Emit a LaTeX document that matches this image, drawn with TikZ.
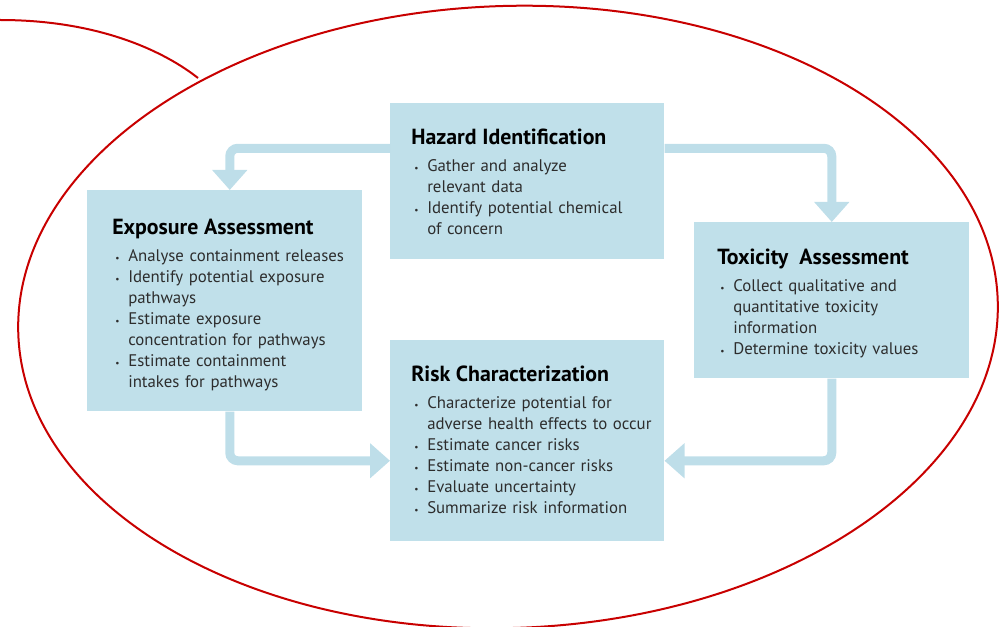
\documentclass[tikz,border=0pt]{standalone}
\usepackage{fontspec}
\setmainfont{PT Sans}
\usetikzlibrary{calc}
\usetikzlibrary{arrows.meta}
\definecolor{boxblue}{RGB}{192,224,234}
\definecolor{flowblue}{RGB}{190,222,233}
\definecolor{ovalred}{RGB}{200,0,0}
\definecolor{bodygray}{RGB}{45,45,45}
\newcommand{\itm}[1]{\par\hangindent=12pt\hangafter=1\noindent\makebox[12pt][l]{\hspace{2.25pt}\raisebox{0.5pt}{\scriptsize\textbullet}}#1\par}
\newcommand{\ttl}[1]{{\fontsize{16.4}{18}\selectfont\bfseries\color{black}#1\par}\vspace{4.5pt}}
\tikzset{
	box/.style={fill=boxblue, inner sep=0pt, anchor=north west},
	txt/.style={anchor=north west, inner sep=0pt, align=left, text width=195pt, text=bodygray, font=\fontsize{12.6}{15.75}\selectfont},
	flow/.style={draw=flowblue, line width=6.75pt, rounded corners=6pt, -{Triangle[width=25.5pt,length=15pt]}}
}

\begin{document}
\begin{tikzpicture}[x=0.75pt,y=-0.75pt]
\useasboundingbox (0,0) rectangle (999,627);
% the four steps
\node [box,minimum width=205.5pt,minimum height=117pt] (haz) at (390,103) {};
\node [box,minimum width=206.25pt,minimum height=165.75pt] (exp) at (87,190) {};
\node [box,minimum width=206.25pt,minimum height=117pt] (tox) at (694,222) {};
\node [box,minimum width=205.5pt,minimum height=150.75pt] (risk) at (390,340) {};
% arrows between them
\draw [flow] ($(haz.west)+(0,-33)$) -| ($(exp.north)+(5,0)$);
\draw [flow] ($(haz.east)+(0,-33)$) -| (tox.north);
\draw [flow] ($(exp.south)+(5,0)$) |- ($(risk.west)+(0,20)$);
\draw [flow] (tox.south) |- ($(risk.east)+(0,20)$);
% texts
\node [txt] (hazt) at (411,129) {\ttl{Hazard Identification}%
	\itm{Gather and analyze\newline relevant data}%
	\itm{Identify potential chemical\newline of concern}};
\node [txt] (expt) at (112,219) {\ttl{Exposure Assessment}%
	\itm{Analyse containment releases}%
	\itm{Identify potential exposure\newline pathways}%
	\itm{Estimate exposure\newline concentration for pathways}%
	\itm{Estimate containment\newline intakes for pathways}};
\node [txt] (toxt) at (717,249) {\ttl{Toxicity\enspace Assessment}%
	\itm{Collect qualitative and\newline quantitative toxicity\newline information}%
	\itm{Determine toxicity values}};
\node [txt] (riskt) at (411,366) {\ttl{Risk Characterization}%
	\itm{Characterize potential for\newline adverse health effects to occur}%
	\itm{Estimate cancer risks}%
	\itm{Estimate non-cancer risks}%
	\itm{Evaluate uncertainty}%
	\itm{Summarize risk information}};
% red outline
\draw [ovalred,line width=1.5pt,rotate around={2:(508,317)}] (508,317) ellipse [x radius=490,y radius=311];
\draw [ovalred,line width=1.5pt] (0,20) .. controls (100,20) and (165,52) .. (198,78);
\end{tikzpicture}
\end{document}
